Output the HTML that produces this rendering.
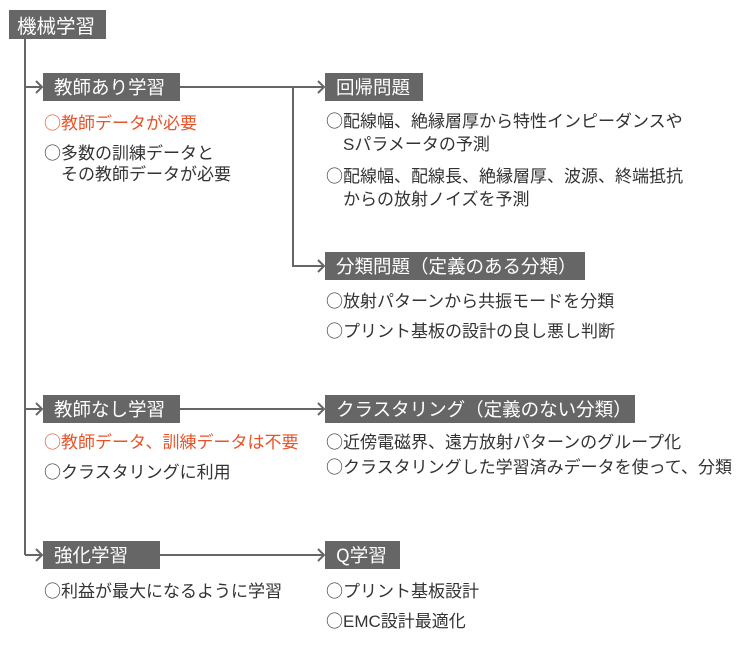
<!DOCTYPE html>
<html><head><meta charset="utf-8"><style>
body{margin:0;width:740px;height:655px;background:#fff;position:relative;overflow:hidden;font-family:"Liberation Sans","Noto Sans CJK JP",sans-serif;}
.b{position:absolute;background:#666;color:#fff;font-size:18.5px;line-height:28px;height:28px;padding:0 11px;box-sizing:border-box;white-space:nowrap;font-family:"Noto Sans CJK JP",sans-serif;}
.t{position:absolute;font-size:17px;line-height:24px;color:#333;white-space:nowrap;font-family:"Liberation Sans","Noto Sans CJK JP",sans-serif;}
.t i{font-style:normal;font-family:"Noto Sans CJK JP",sans-serif;}
.o{color:#e8532a;}
</style></head><body>
<svg width="740" height="655" style="position:absolute;left:0;top:0" fill="none" stroke="#666" stroke-width="2">
<path d="M25 39V555"/>
<path d="M25 87H42M36 81l6 6-6 6"/>
<path d="M25 409H42M36 403l6 6-6 6"/>
<path d="M25 555H42M36 549l6 6-6 6"/>
<path d="M180 87H324M318 81l6 6-6 6"/>
<path d="M293 87V266H324M318 260l6 6-6 6"/>
<path d="M180 409H324M318 403l6 6-6 6"/>
<path d="M160 555H324M318 549l6 6-6 6"/>
</svg>
<div class="b" style="left:9px;top:10px;width:97px;height:29px;line-height:29px;padding:0 8px;font-size:19.5px">機械学習</div>
<div class="b" style="left:43px;top:73px;width:137px">教師あり学習</div>
<div class="b" style="left:325px;top:73px;width:98px">回帰問題</div>
<div class="b" style="left:325px;top:252px;width:260px">分類問題（定義のある分類）</div>
<div class="b" style="left:43px;top:395px;width:137px">教師なし学習</div>
<div class="b" style="left:325px;top:395px;width:310px">クラスタリング（定義のない分類）</div>
<div class="b" style="left:43px;top:541px;width:117px">強化学習</div>
<div class="b" style="left:325px;top:541px;width:75px">Q学習</div>

<div class="t o" style="left:44px;top:110px"><i>○</i>教師データが必要</div>
<div class="t" style="left:44px;top:140px"><i>○</i>多数の訓練データと</div>
<div class="t" style="left:61px;top:163px">その教師データが必要</div>

<div class="t" style="left:326px;top:108px"><i>○</i>配線幅、絶縁層厚から特性インピーダンスや</div>
<div class="t" style="left:343px;top:133px">Sパラメータの予測</div>
<div class="t" style="left:326px;top:163px"><i>○</i>配線幅、配線長、絶縁層厚、波源、終端抵抗</div>
<div class="t" style="left:343px;top:188px">からの放射ノイズを予測</div>

<div class="t" style="left:326px;top:288px"><i>○</i>放射パターンから共振モードを分類</div>
<div class="t" style="left:326px;top:318px"><i>○</i>プリント基板の設計の良し悪し判断</div>

<div class="t o" style="left:44px;top:429px"><i>○</i>教師データ、訓練データは不要</div>
<div class="t" style="left:44px;top:459px"><i>○</i>クラスタリングに利用</div>
<div class="t" style="left:326px;top:429px"><i>○</i>近傍電磁界、遠方放射パターンのグループ化</div>
<div class="t" style="left:326px;top:454px"><i>○</i>クラスタリングした学習済みデータを使って、分類</div>

<div class="t" style="left:44px;top:578px"><i>○</i>利益が最大になるように学習</div>
<div class="t" style="left:326px;top:578px"><i>○</i>プリント基板設計</div>
<div class="t" style="left:326px;top:608px"><i>○</i>EMC設計最適化</div>
</body></html>
